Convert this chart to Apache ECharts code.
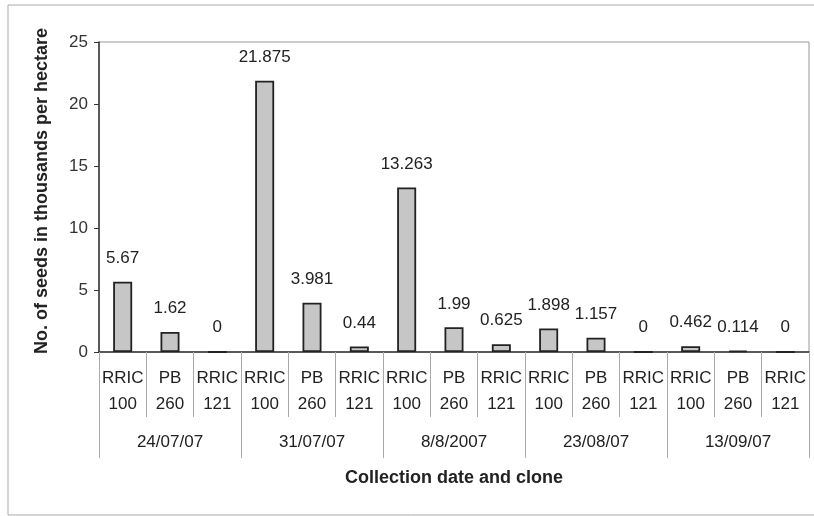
<!DOCTYPE html>
<html>
<head>
<meta charset="utf-8">
<script src="https://cdn.jsdelivr.net/npm/echarts@6/dist/echarts.min.js"></script>
<style>
html,body{margin:0;padding:0;background:#fff;}
#main{width:814px;height:516px;}
</style>
</head>
<body>
<div id="main"></div>
<script>
const clones = ["RRIC\n100","PB\n260","RRIC\n121","RRIC\n100","PB\n260","RRIC\n121","RRIC\n100","PB\n260","RRIC\n121","RRIC\n100","PB\n260","RRIC\n121","RRIC\n100","PB\n260","RRIC\n121"];
const dates = ["24/07/07","31/07/07","8/8/2007","23/08/07","13/09/07"];
const seeds = [5.67,1.62,0,21.875,3.981,0.44,13.263,1.99,0.625,1.898,1.157,0,0.462,0.114,0];
const yTicks = [0,5,10,15,20,25];
const yTitle = "No. of seeds in thousands per hectare";
const xTitle = "Collection date and clone";

const FONT = "Liberation Sans, Arial, sans-serif";
const chart = echarts.init(document.getElementById('main'));
chart.setOption({
  animation:false,
  backgroundColor:'#fff',
  graphic:[{type:'rect',shape:{x:8,y:5,width:830,height:510},style:{fill:'none',stroke:'#aaa',lineWidth:1},z:-1}],
  grid:{left:99,right:5,top:42,bottom:164,show:true,borderColor:'#999',borderWidth:1},
  xAxis:[{
    type:'category',data:clones,position:'bottom',
    axisLine:{lineStyle:{color:'#333',width:1.5}},
    axisTick:{show:true,interval:0,length:65,lineStyle:{color:'#aaa'}},
    axisLabel:{interval:0,margin:13,fontFamily:FONT,fontSize:17,lineHeight:26,color:'#222'}
  },{
    type:'category',data:dates,position:'bottom',
    axisLine:{show:false},
    axisTick:{show:true,interval:0,length:106,lineStyle:{color:'#aaa'}},
    axisLabel:{interval:0,margin:82,fontFamily:FONT,fontSize:17,color:'#222'},
    name:xTitle,nameLocation:'middle',nameGap:117,
    nameTextStyle:{fontFamily:FONT,fontSize:18,fontWeight:'bold',color:'#222'}
  }],
  yAxis:{
    type:'value',min:yTicks[0],max:yTicks[yTicks.length-1],interval:5,
    axisLine:{show:true,lineStyle:{color:'#333',width:1.5}},
    axisTick:{show:true,length:5,lineStyle:{color:'#333'}},
    splitLine:{show:false},
    axisLabel:{margin:11,fontFamily:FONT,fontSize:17,color:'#333'},
    name:yTitle,nameLocation:'middle',nameGap:48,
    nameTextStyle:{fontFamily:FONT,fontSize:18,fontWeight:'bold',color:'#222',padding:[0,0,0,12]}
  },
  series:[{
    type:'bar',data:seeds,xAxisIndex:0,barWidth:19,
    itemStyle:{color:'#c6c6c6',borderColor:'#222',borderWidth:1.8},
    label:{show:true,position:'top',distance:15,fontFamily:FONT,fontSize:17,color:'#222'}
  }]
});
</script>
</body>
</html>
